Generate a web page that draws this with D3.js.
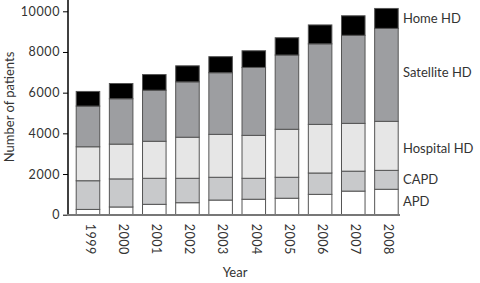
<!DOCTYPE html>
<html><head><meta charset="utf-8">
<script src="https://cdn.jsdelivr.net/npm/d3@7"></script>
<style>body{margin:0;background:#fff}svg{display:block}text{font-family:Lato,"Open Sans",sans-serif}</style>
</head><body><svg id="c" width="480" height="283"></svg>
<script>
const years = ["1999","2000","2001","2002","2003","2004","2005","2006","2007","2008"];
const seriesNames = ["APD","CAPD","Hospital HD","Satellite HD","Home HD"];
const apd       = [260, 380, 510, 590, 720, 760, 810, 1000, 1160, 1250];
const capd      = [1410, 1380, 1280, 1200, 1120, 1030, 1030, 1050, 980, 930];
const hospital  = [1670, 1710, 1820, 2020, 2110, 2110, 2360, 2390, 2350, 2410];
const satellite = [2000, 2230, 2510, 2720, 3030, 3340, 3650, 3960, 4330, 4570];
const homeHD    = [720, 750, 770, 790, 790, 820, 850, 930, 960, 980];
const yTicks = [0, 2000, 4000, 6000, 8000, 10000];
const colors = ["#ffffff","#c8c9cb","#e6e6e6","#9d9ea1","#000000"];

const rows = years.map((y,i)=>({year:y,"APD":apd[i],"CAPD":capd[i],"Hospital HD":hospital[i],"Satellite HD":satellite[i],"Home HD":homeHD[i]}));
const stack = d3.stack().keys(seriesNames)(rows);

const svg = d3.select("#c");
const x = d3.scaleBand().domain(years).range([75.7, 397.7]).paddingInner(0.29).paddingOuter(0);
const y = d3.scaleLinear().domain([0,10000]).range([214.7, 11.3]);

stack.forEach((s,si)=>{
  svg.append("g").selectAll("rect").data(s).join("rect")
    .attr("x", d=>x(d.data.year)+0.5)
    .attr("width", x.bandwidth())
    .attr("y", d=>y(d[1]))
    .attr("height", d=>y(d[0])-y(d[1]))
    .attr("fill", colors[si])
    .attr("stroke", "#555")
    .attr("stroke-width", 1);
});

// y axis
const yAxis = svg.append("g").attr("transform","translate(68,0)")
  .call(d3.axisLeft(y).tickValues(yTicks).tickSize(5).tickPadding(3).tickFormat(d3.format("d")));
yAxis.select(".domain").remove();
yAxis.selectAll(".tick line").attr("stroke","#000");
yAxis.selectAll(".tick text").attr("font-size",12.5).attr("letter-spacing",0.6).attr("fill","#333").attr("font-family","Lato,sans-serif");
svg.append("line").attr("x1",68).attr("x2",68).attr("y1",0).attr("y2",215).attr("stroke","#000").attr("stroke-width",1.5);

// x axis
svg.append("line").attr("x1",67).attr("x2",400).attr("y1",y(0)+0.3).attr("y2",y(0)+0.3).attr("stroke","#777").attr("stroke-width",2);
const xAxis = svg.append("g").attr("transform",`translate(0,${y(0)})`)
  .call(d3.axisBottom(x).tickSize(0).tickPadding(0));
xAxis.select(".domain").remove();
xAxis.selectAll(".tick text")
  .attr("font-size",12.5).attr("letter-spacing",0.5).attr("fill","#333").attr("font-family","Lato,sans-serif")
  .attr("transform","rotate(90)").attr("text-anchor","start").attr("dy","0.3em").attr("x",9).attr("y",-2);

// titles
svg.append("text").attr("transform","translate(14,107) rotate(-90)").attr("text-anchor","middle")
  .attr("font-size",13).attr("fill","#333").text("Number of patients");
svg.append("text").attr("x",235).attr("y",277).attr("text-anchor","middle")
  .attr("font-size",13).attr("fill","#333").text("Year");

// series labels
const labelY = [201, 179, 148, 72, 18];
seriesNames.forEach((n,i)=>{
  svg.append("text").attr("x",403).attr("y",labelY[i]).attr("dy","0.35em")
    .attr("font-size",13).attr("fill","#333").text(n);
});
</script></body></html>
